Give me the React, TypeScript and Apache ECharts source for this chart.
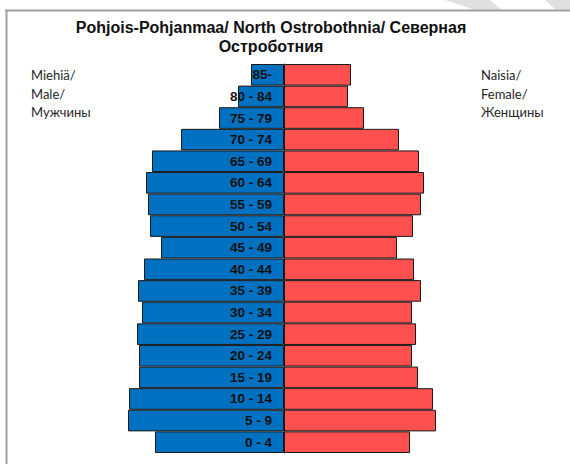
import React, { useEffect, useRef } from "react";
import * as echarts from "echarts";

const ageGroups = ["0 - 4", "5 - 9", "10 - 14", "15 - 19", "20 - 24", "25 - 29", "30 - 34", "35 - 39", "40 - 44", "45 - 49", "50 - 54", "55 - 59", "60 - 64", "65 - 69", "70 - 74", "75 - 79", "80 - 84", "85-"];
const maleValues = [129, 156, 155, 145, 145, 147, 142, 146, 140, 123, 134, 136, 138, 132, 103, 65, 46, 33];
const femaleValues = [126, 152, 149, 134, 128, 132, 128, 137, 130, 113, 129, 137, 140, 135, 115, 80, 64, 67];
const titleLines = ["Pohjois-Pohjanmaa/ North Ostrobothnia/ Северная", "Остроботния"];
const maleLabel = ["Miehiä/", "Male/", "Мужчины"];
const femaleLabel = ["Naisia/", "Female/", "Женщины"];

export default function App() {
  const ref = useRef<HTMLDivElement>(null);
  useEffect(() => {
    document.body.style.margin = "0";
    const chart = echarts.init(ref.current!, null, { renderer: "svg" });
    const sideFont = { fontFamily: "Lato", fontSize: 13, fill: "#262626" };
    chart.setOption({
      animation: false,
      backgroundColor: "#ffffff",
      grid: { left: 84, width: 400, top: 64, height: 389, containLabel: false },
      xAxis: { type: "value", min: -200, max: 200, show: false },
      yAxis: {
        type: "category",
        data: ageGroups,
        position: "left",
        offset: -200,
        z: 10,
        axisLine: { show: true, onZero: false, lineStyle: { color: "#1a1a1a", width: 1 } },
        axisTick: { show: false },
        splitLine: { show: false },
        axisLabel: {
          margin: 12,
          fontFamily: "Liberation Sans, Arial",
          fontWeight: "bold",
          fontSize: 13.5,
          color: "#111111",
        },
      },
      series: [
        {
          name: "Male",
          type: "bar",
          data: maleValues.map((v) => -v),
          barWidth: "100%",
          barGap: "-100%",
          itemStyle: { color: "#0070C0", borderColor: "#1a1a1a", borderWidth: 1 },
        },
        {
          name: "Female",
          type: "bar",
          data: femaleValues,
          barWidth: "100%",
          barGap: "-100%",
          itemStyle: { color: "#FF5050", borderColor: "#1a1a1a", borderWidth: 1 },
        },
      ],
      graphic: [
        { type: "polygon", shape: { points: [[445, 0], [490, 0], [502, 10], [475, 10]] }, style: { fill: "#e0e0e0" }, silent: true },
        { type: "polygon", shape: { points: [[545, 0], [570, 0], [570, 10], [556, 10]] }, style: { fill: "#e0e0e0" }, silent: true },
        { type: "line", shape: { x1: 5, y1: 10.5, x2: 570, y2: 10.5 }, style: { stroke: "#a0a0a0", lineWidth: 2 } },
        { type: "line", shape: { x1: 6.5, y1: 10, x2: 6.5, y2: 464 }, style: { stroke: "#a0a0a0", lineWidth: 2 } },
        ...titleLines.map((t, i) => ({
          type: "text",
          x: 271,
          y: 27 + i * 19,
          style: { text: t, textAlign: "center", textVerticalAlign: "middle", fontFamily: "Liberation Sans, Arial", fontWeight: "bold", fontSize: 16, fill: "#111111" },
        })),
        ...maleLabel.map((t, i) => ({
          type: "text",
          x: 31,
          y: 75 + i * 18.7,
          style: { ...sideFont, text: t, textAlign: "left", textVerticalAlign: "middle" },
        })),
        ...femaleLabel.map((t, i) => ({
          type: "text",
          x: 481,
          y: 75 + i * 18.7,
          style: { ...sideFont, text: t, textAlign: "left", textVerticalAlign: "middle" },
        })),
      ],
    });
    return () => chart.dispose();
  }, []);
  return <div ref={ref} style={{ width: 570, height: 464 }} />;
}
